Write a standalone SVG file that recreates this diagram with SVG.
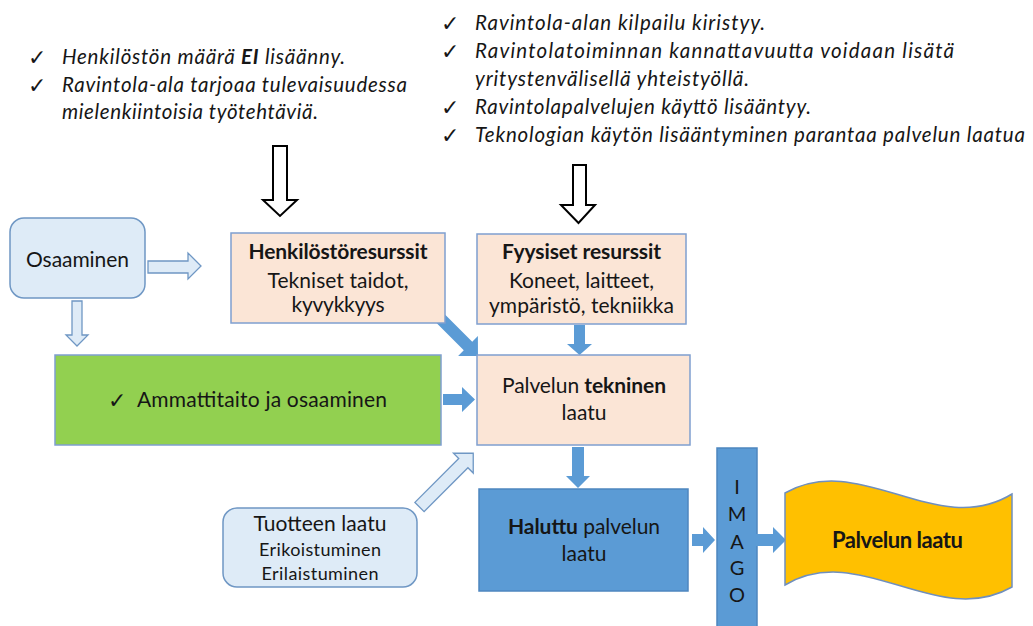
<svg xmlns="http://www.w3.org/2000/svg" width="1033" height="626" viewBox="0 0 1033 626">
<style>
.t{font-family:Lato,"Liberation Sans",sans-serif;fill:#161616}
.it{font-style:italic;font-size:20.5px}
.bx{font-size:21px}
.sm{font-size:18px}
.bd{font-weight:bold}
.ck{font-family:"DejaVu Sans",sans-serif;font-size:22px;fill:#161616}
.lb{fill:#DEEBF7;stroke:#6F97C4;stroke-width:1.5}
.pk{fill:#FBE5D6;stroke:#7F9FCF;stroke-width:1.5}
.gr{fill:#92D050;stroke:#7F9FCF;stroke-width:1.5}
.bl{fill:#5B9BD5;stroke:#4E86BF;stroke-width:1.5}
.yl{fill:#FFC000;stroke:#6F8FBF;stroke-width:1.5}
.sa{fill:#5B9BD5;stroke:none}
.la{fill:#DEEBF7;stroke:#6F97C4;stroke-width:1.3}
.wa{fill:#fff;stroke:#000;stroke-width:2}
</style>
<rect width="1033" height="626" fill="#fff"/>

<g id="notes-left">
<text class="ck" x="28" y="65">✓</text>
<text class="ck" x="28" y="93">✓</text>
<text class="t it" x="62" y="64" textLength="283">Henkilöstön määrä <tspan class="bd">EI</tspan> lisäänny.</text>
<text class="t it" x="62" y="92" textLength="345">Ravintola-ala tarjoaa tulevaisuudessa</text>
<text class="t it" x="62" y="119" textLength="256">mielenkiintoisia työtehtäviä.</text>
</g>

<g id="notes-right">
<text class="ck" x="441" y="31">✓</text>
<text class="ck" x="441" y="59">✓</text>
<text class="ck" x="441" y="115">✓</text>
<text class="ck" x="441" y="143">✓</text>
<text class="t it" x="475" y="30" textLength="290">Ravintola-alan kilpailu kiristyy.</text>
<text class="t it" x="475" y="58" textLength="479">Ravintolatoiminnan kannattavuutta voidaan lisätä</text>
<text class="t it" x="475" y="86" textLength="274">yritystenvälisellä yhteistyöllä.</text>
<text class="t it" x="475" y="114" textLength="336">Ravintolapalvelujen käyttö lisääntyy.</text>
<text class="t it" x="475" y="142" textLength="550">Teknologian käytön lisääntyminen parantaa palvelun laatua</text>
</g>

<g id="connectors">
<polygon class="wa" points="273,146 287,146 287,200 297,200 280,216 263,200 273,200"/>
<polygon class="wa" points="573,165 586,165 586,205 595,205 578.5,223 561,205 573,205"/>
<polygon class="la" points="148,261 188,261 188,253 201,266 188,279 188,273 148,273"/>
<polygon class="la" points="72,301 82,301 82,335 88,335 77,346 66,335 72,335"/>
<polygon class="sa" transform="translate(440,318) rotate(45)" points="0,-6 39.6,-6 39.6,-14 53.7,0 39.6,14 39.6,6 0,6"/>
<polygon class="sa" points="574,325 585,325 585,344 592,344 579.5,355 567,344 574,344"/>
<polygon class="sa" points="443,394 462,394 462,387 475,399.5 462,412 462,405 443,405"/>
<polygon class="la" transform="translate(419.5,507) rotate(-45)" points="0,-6.5 62,-6.5 62,-14 76,0 62,14 62,6.5 0,6.5"/>
<polygon class="sa" points="572,447 584,447 584,476 590,476 578,488 566,476 572,476"/>
<polygon class="sa" points="692,534 703,534 703,527 715,540 703,553 703,546 692,546"/>
</g>

<g id="osaaminen">
<rect class="lb" x="10" y="218" width="135" height="80" rx="14"/>
<text class="t bx" x="77.5" y="267" text-anchor="middle" textLength="103">Osaaminen</text>
</g>

<g id="henkilostoresurssit">
<rect class="pk" x="231" y="233" width="214" height="90"/>
<text class="t bx bd" x="338" y="259" text-anchor="middle" textLength="179">Henkilöstöresurssit</text>
<text class="t bx" x="338" y="288" text-anchor="middle" textLength="141">Tekniset taidot,</text>
<text class="t bx" x="338" y="312" text-anchor="middle" textLength="93">kyvykkyys</text>
</g>

<g id="fyysiset">
<rect class="pk" x="477" y="234" width="209" height="90"/>
<text class="t bx bd" x="581.5" y="259" text-anchor="middle" textLength="159">Fyysiset resurssit</text>
<text class="t bx" x="581.5" y="288" text-anchor="middle" textLength="145">Koneet, laitteet,</text>
<text class="t bx" x="581.5" y="313" text-anchor="middle" textLength="185">ympäristö, tekniikka</text>
</g>

<g id="ammattitaito">
<rect class="gr" x="55" y="355" width="386" height="90"/>
<text class="ck" x="108" y="408">✓</text>
<text class="t bx" x="137" y="407" textLength="250">Ammattitaito ja osaaminen</text>
</g>

<g id="tekninen">
<rect class="pk" x="477" y="355" width="213" height="90"/>
<text class="t bx" x="584" y="393" text-anchor="middle" textLength="164">Palvelun <tspan class="bd">tekninen</tspan></text>
<text class="t bx" x="584" y="420" text-anchor="middle">laatu</text>
</g>

<g id="tuotteen">
<rect class="lb" x="223" y="508" width="194" height="79" rx="14"/>
<text class="t" style="font-size:21px" x="320" y="531" text-anchor="middle" textLength="133">Tuotteen laatu</text>
<text class="t sm" x="320" y="556" text-anchor="middle" textLength="122">Erikoistuminen</text>
<text class="t sm" x="320" y="580" text-anchor="middle" textLength="117">Erilaistuminen</text>
</g>

<g id="haluttu">
<rect class="bl" x="479" y="489" width="209" height="102"/>
<text class="t bx" x="584" y="534" text-anchor="middle" textLength="152"><tspan class="bd">Haluttu</tspan> palvelun</text>
<text class="t bx" x="584" y="561" text-anchor="middle">laatu</text>
</g>

<g id="imago">
<rect class="bl" x="717" y="448" width="40" height="185"/>
<text class="t" style="font-size:20px" x="737" y="494" text-anchor="middle">I</text>
<text class="t" style="font-size:20px" x="737" y="521" text-anchor="middle">M</text>
<text class="t" style="font-size:20px" x="737" y="549" text-anchor="middle">A</text>
<text class="t" style="font-size:20px" x="737" y="575" text-anchor="middle">G</text>
<text class="t" style="font-size:20px" x="737" y="602" text-anchor="middle">O</text>
</g>

<g id="arrow-imago-laatu">
<polygon class="sa" points="755,534 773,534 773,527 786,540 773,553 773,546 755,546"/>
</g>

<g id="palvelun-laatu">
<path class="yl" d="M785,493 C860,450 937,540 1012,494 L1012,587 C937,630 860,540 785,585 Z"/>
<text class="t bd" style="font-size:22px" x="897.5" y="548" text-anchor="middle" textLength="131">Palvelun laatu</text>
</g>
</svg>
